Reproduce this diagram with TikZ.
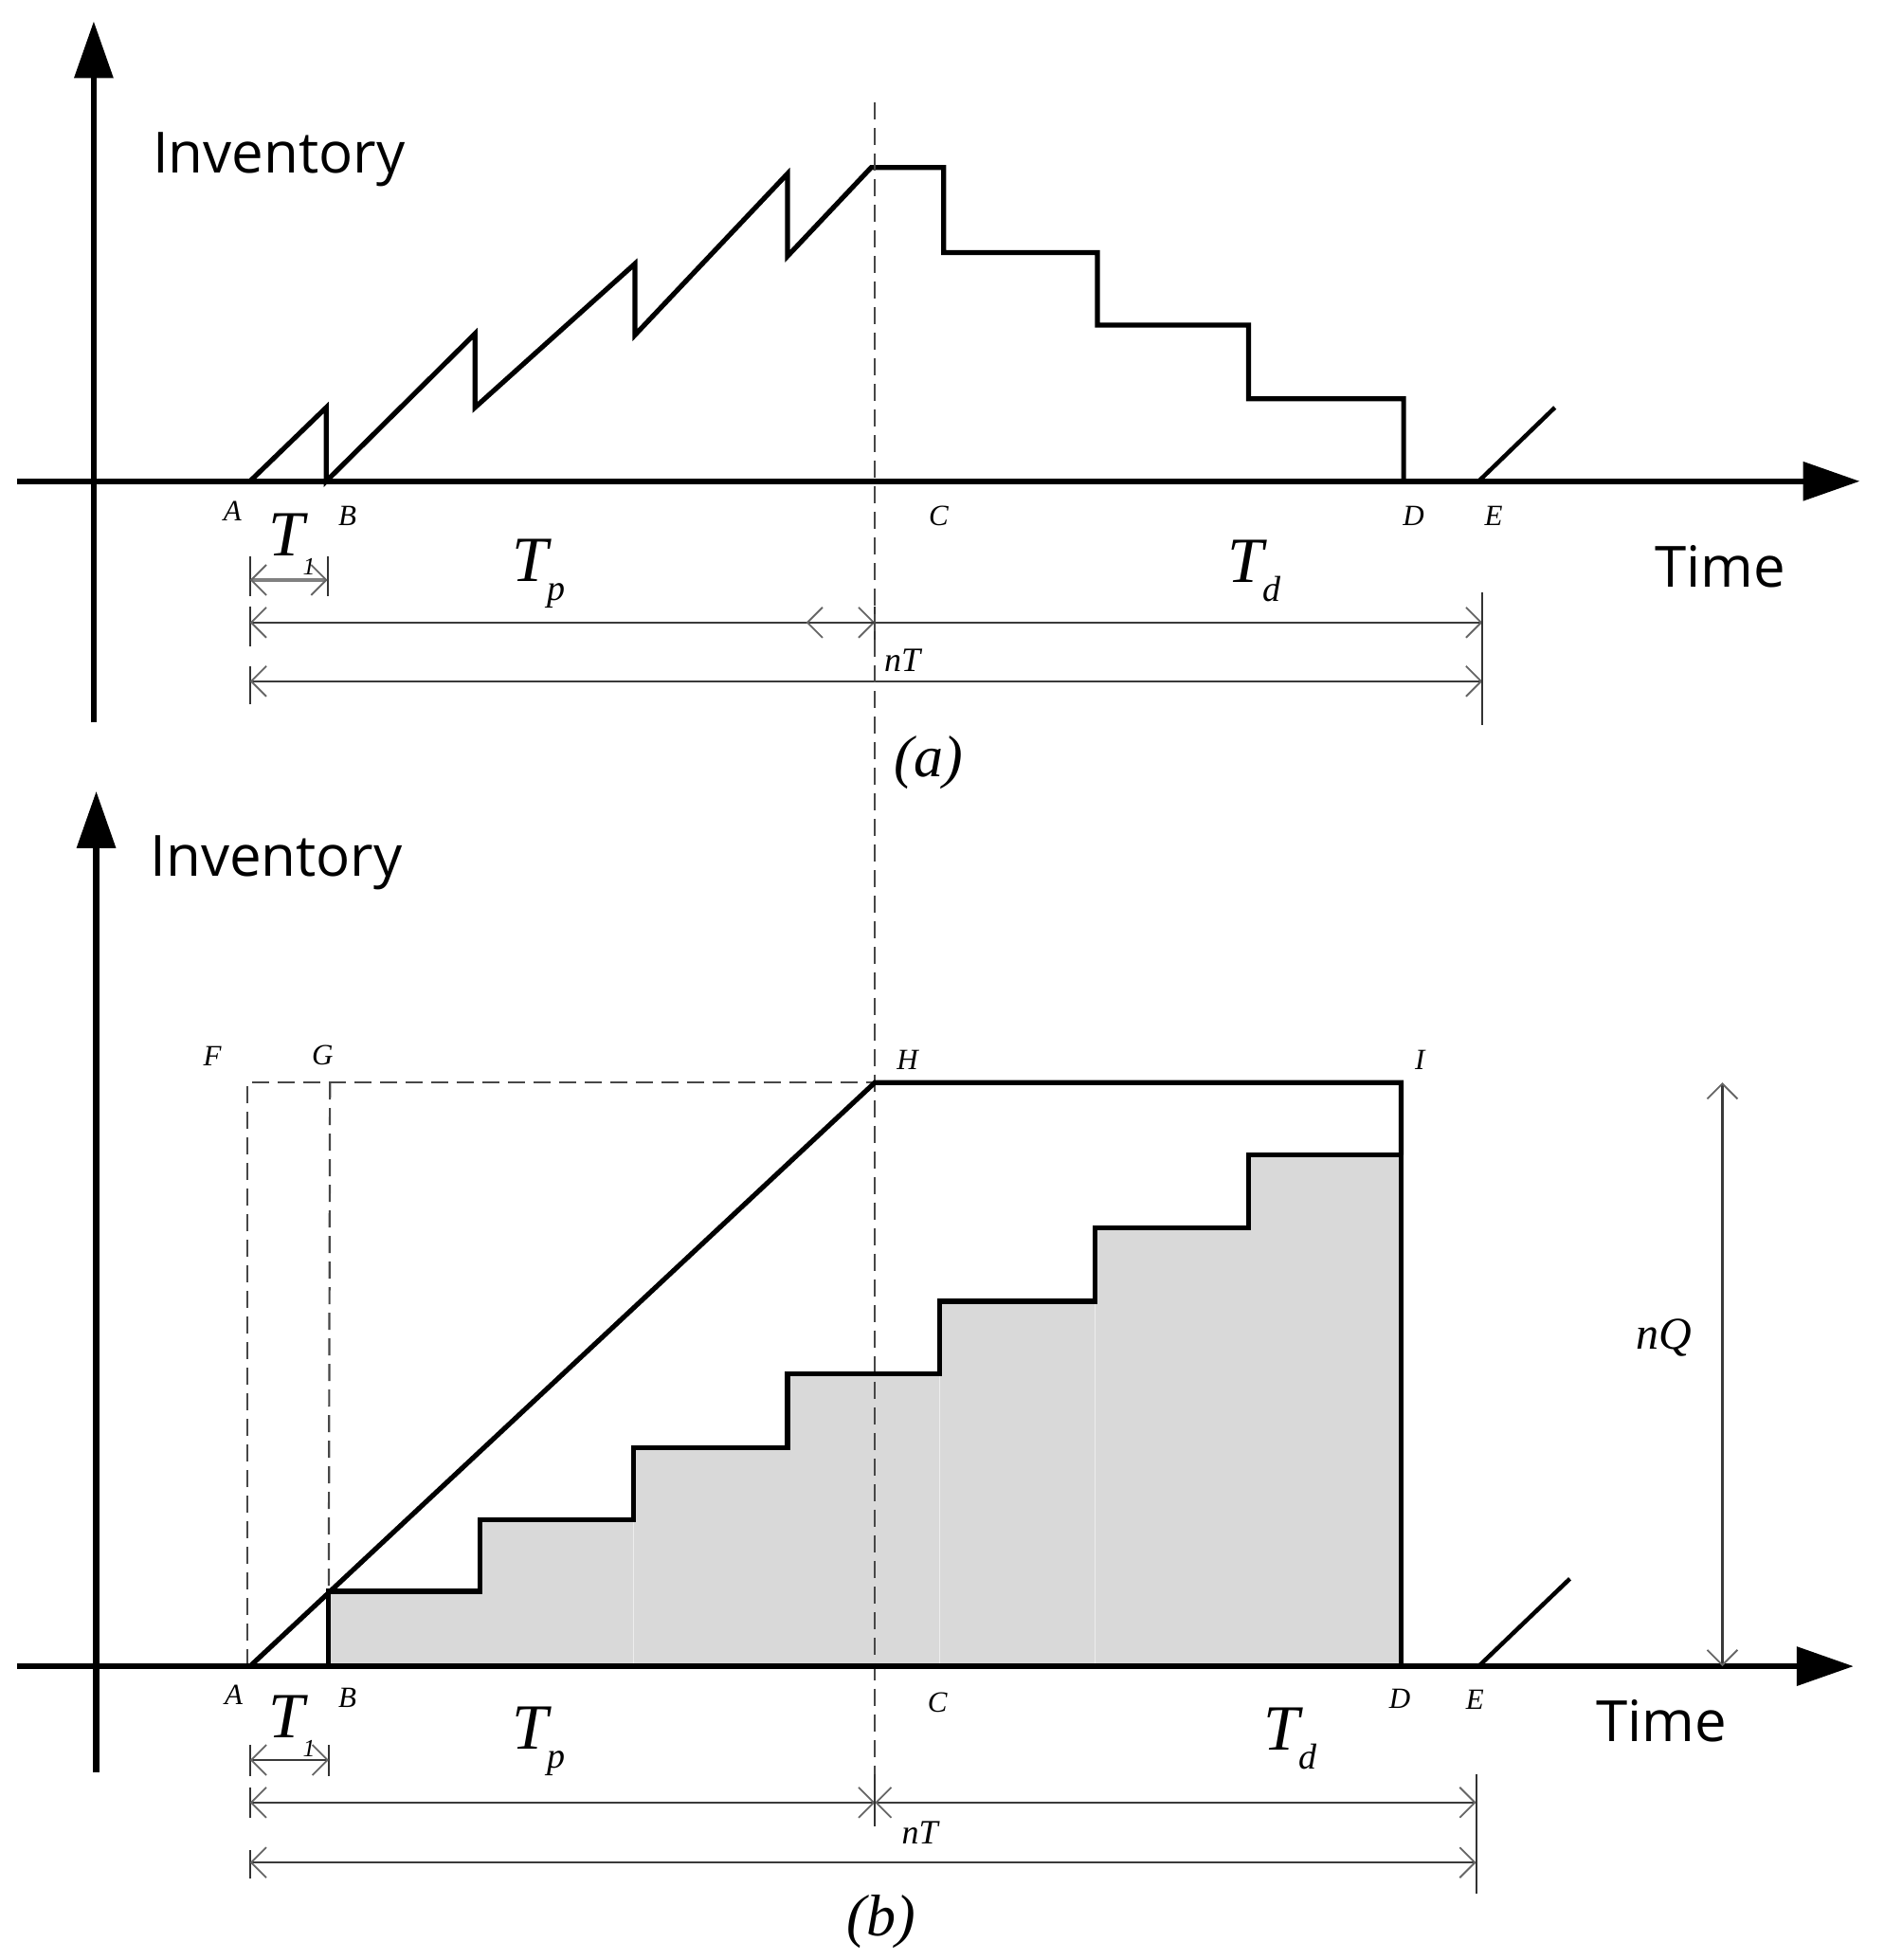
\documentclass[tikz,border=0pt]{standalone}
\usepackage{fontspec}
\setmainfont{Liberation Serif}
\newfontfamily\sansf{Open Sans}
\usetikzlibrary{arrows.meta}
\definecolor{fillg}{HTML}{D9D9D9}
\definecolor{dimc}{HTML}{3A3A3A}
\definecolor{headc}{HTML}{666666}
\newcommand\Tlab[3]{\fontsize{68}{68}\selectfont\itshape T\kern#3\raisebox{-20pt}{\fontsize{#2}{#2}\selectfont #1}}
\begin{document}
\begin{tikzpicture}[x=1.3191pt,y=-1.3191pt,
 axis/.style={line width=6.5pt,-{Triangle[length=60pt,width=40pt]}},
 curve/.style={line width=5.2pt},
 guide/.style={line width=2.2pt,black!72,dash pattern=on 18pt off 9pt},
 barb/.tip={Straight Barb[length=16pt,width=32pt,line width=1.8pt,color=headc]},
 dim/.style={line width=2.4pt,dimc,barb-barb},
 ext/.style={line width=2pt,black!80},
 lbl/.style={inner sep=0pt,font=\fontsize{31}{31}\selectfont\itshape},
 word/.style={inner sep=0pt,anchor=base west,font=\fontsize{60}{60}\selectfont\sansf},
 tl/.style={inner sep=0pt,anchor=base west}]
\useasboundingbox (0,0) rectangle (1507,1568);

% ---------- panel (a) ----------
\coordinate (ayb) at (75,578);
\coordinate (ayt) at (75,17);
\coordinate (axl) at (14,385);
\coordinate (axr) at (1488,385);
\coordinate (aA) at (200,385);
\coordinate (aB) at (261,385);
\coordinate (aH) at (697,134);
\coordinate (aD) at (1123,385);
\coordinate (aE) at (1183,385);
\coordinate (aEt) at (1244,326);

\draw[guide] (700,82) -- (700,1419);

\draw[axis] (ayb) -- (ayt);
\draw[axis] (axl) -- (axr);

\draw[curve] (aA) -- (261,326) -- (aB) -- (380,267) -- (380,326) -- (508,211) -- (508,268)
  -- (630,139) -- (630,205) -- (aH) -- (755,134) -- (755,202) -- (878,202) -- (878,260)
  -- (999,260) -- (999,319) -- (1123,319) -- (aD);
\draw[curve,line width=4.5pt] (aE) -- (aEt);

% dimensions (a)
\draw[ext] (200,445) -- (200,477);
\draw[ext] (262,445) -- (262,477);
\draw[dim,line width=4pt,draw=black!50] (200,464) -- (262,464);
\draw[ext] (200,485) -- (200,517);
\draw[dim] (200,498) -- (700,498);
\draw[dim] (645,498) -- (1186,498);
\draw[ext] (200,533) -- (200,563);
\draw[dim] (200,545) -- (1186,545);
\draw[ext] (1186,474) -- (1186,580);
\draw[ext] (700,485) -- (700,521);

% labels (a)
\node[word] (ainv) at (122,138) {Inventory};
\node[word] (atime) at (1324,470) {Time};
\node[lbl] (laA) at (186,409) {A};
\node[lbl] (laB) at (278,413) {B};
\node[lbl] (laC) at (751,413) {C};
\node[lbl] (laD) at (1131,413) {D};
\node[lbl] (laE) at (1195,413) {E};
\node[tl] (aT1) at (215,445) {\Tlab{1}{26}{-2pt}};
\node[tl] (aTp) at (410,465) {\Tlab{p}{38}{-1pt}};
\node[tl] (aTd) at (982,466) {\Tlab{d}{38}{-1pt}};
\node[lbl,font=\fontsize{36}{36}\selectfont\itshape] (anT) at (722,528) {nT};
\node[lbl,font=\fontsize{62}{62}\selectfont\itshape] (acap) at (743,610) {(a)};

% ---------- panel (b) ----------
\coordinate (byb) at (77,1418);
\coordinate (byt) at (77,633);
\coordinate (bxl) at (14,1333);
\coordinate (bxr) at (1483,1333);
\coordinate (bA) at (200,1333);
\coordinate (bB) at (263,1333);
\coordinate (bG) at (263,1273);
\coordinate (bH) at (700,866);
\coordinate (bI) at (1121,866);
\coordinate (bJ) at (1121,924);
\coordinate (bD) at (1121,1333);
\coordinate (bE) at (1183,1333);
\coordinate (bEt) at (1256,1263);

\fill[fillg] (bB) -- (bG) -- (384,1273) -- (384,1216) -- (507,1216) -- (507,1158) -- (630,1158)
  -- (630,1099) -- (752,1099) -- (752,1041) -- (876,1041) -- (876,982) -- (999,982)
  -- (999,924) -- (bJ) -- (bD) -- cycle;
\draw[white!93!black,line width=1.2pt] (507,1216) -- (507,1333);
\draw[white!93!black,line width=1.2pt] (752,1099) -- (752,1333);
\draw[white!93!black,line width=1.2pt] (876,1041) -- (876,1333);

\draw[guide] (198,1333) -- (198,866) -- (bH);
\draw[guide] (264,866) -- (bG);
\draw[guide] (700,82) -- (700,1419);

\draw[axis] (byb) -- (byt);
\draw[axis] (bxl) -- (bxr);

\draw[curve] (bA) -- (bH) -- (bI) -- (bJ);
\draw[curve] (bB) -- (bG) -- (384,1273) -- (384,1216) -- (507,1216) -- (507,1158) -- (630,1158)
  -- (630,1099) -- (752,1099) -- (752,1041) -- (876,1041) -- (876,982) -- (999,982)
  -- (999,924) -- (bJ) -- (bD);
\draw[curve,line width=4.5pt] (bE) -- (bEt);

% dimensions (b)
\draw[dim] (1378,866) -- (1378,1333);
\draw[ext] (200,1396) -- (200,1421);
\draw[ext] (263,1396) -- (263,1421);
\draw[dim] (200,1408) -- (263,1408);
\draw[ext] (200,1430) -- (200,1454);
\draw[dim] (200,1442) -- (700,1442);
\draw[dim] (700,1442) -- (1181,1442);
\draw[ext] (200,1480) -- (200,1503);
\draw[dim] (200,1490) -- (1181,1490);
\draw[ext] (1181,1419) -- (1181,1515);
\draw[ext] (700,1419) -- (700,1461);

% labels (b)
\node[word] (binv) at (120,701) {Inventory};
\node[word] (btime) at (1277,1393) {Time};
\node[lbl] (lbF) at (170,845) {F};
\node[lbl] (lbG) at (258,844) {G};
\node[lbl] (lbH) at (726,848) {H};
\node[lbl] (lbI) at (1136,848) {I};
\node[lbl] (lbA) at (187,1356) {A};
\node[lbl] (lbB) at (278,1358) {B};
\node[lbl] (lbC) at (750,1362) {C};
\node[lbl] (lbD) at (1120,1359) {D};
\node[lbl] (lbE) at (1180,1360) {E};
\node[tl] (bT1) at (215,1390) {\Tlab{1}{26}{-2pt}};
\node[tl] (bTp) at (410,1399) {\Tlab{p}{38}{-1pt}};
\node[tl] (bTd) at (1011,1400) {\Tlab{d}{38}{-1pt}};
\node[lbl,font=\fontsize{36}{36}\selectfont\itshape] (bnT) at (736,1466) {nT};
\node[lbl,font=\fontsize{48}{48}\selectfont\itshape] (bnQ) at (1331,1070) {nQ};
\node[lbl,font=\fontsize{62}{62}\selectfont\itshape] (bcap) at (705,1537) {(b)};
\end{tikzpicture}
\end{document}
